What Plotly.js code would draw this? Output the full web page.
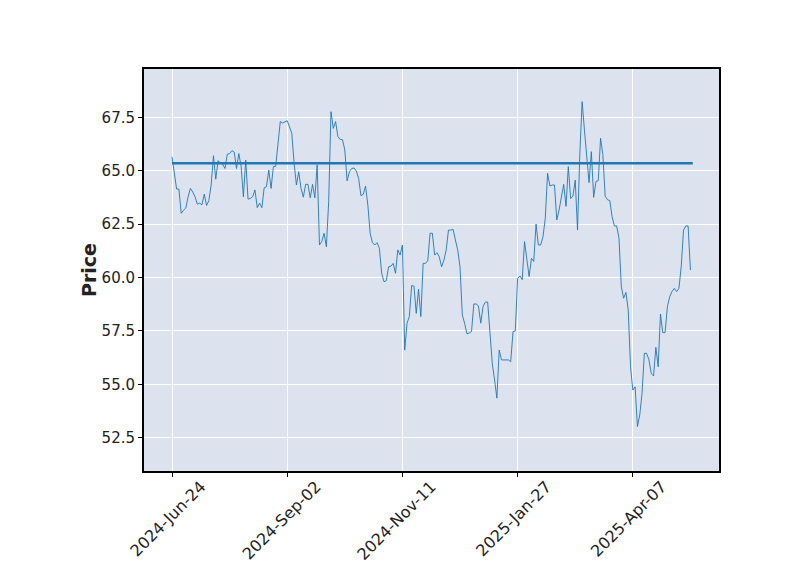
<!DOCTYPE html>
<html>
<head>
<meta charset="utf-8">
<script src="https://cdn.plot.ly/plotly-3.0.1.min.js"></script>
<style>html,body{margin:0;padding:0;background:#fff;}#chart{width:800px;height:575px;}</style>
</head>
<body>
<div id="chart"></div>
<script>
// Closing prices, one per trading day (index 0 = 2024-Jun-24)
const closePrices = [
65.65,64.95,64.14,64.14,63.00,63.15,63.25,63.78,64.17,64.00,
63.78,63.43,63.48,63.40,63.90,63.37,63.60,64.33,65.70,64.60,
65.47,65.35,65.30,65.10,65.77,65.80,65.94,65.87,65.10,65.80,
65.20,63.78,65.50,63.67,63.70,63.78,64.10,63.27,63.48,63.27,
64.20,64.25,65.03,64.17,65.19,65.20,66.36,67.30,67.23,67.27,
67.34,67.05,66.75,65.35,64.33,64.95,64.17,63.76,64.36,64.36,
63.73,64.36,63.73,65.27,61.52,61.68,62.07,61.44,63.55,67.76,
66.98,67.30,66.60,66.46,66.45,65.97,64.52,64.95,65.10,65.13,
64.98,64.64,63.83,63.89,64.28,63.39,62.07,61.63,61.52,61.63,
61.37,60.20,59.80,59.85,60.50,60.53,60.66,60.20,61.29,61.05,
61.52,56.60,57.86,58.17,59.62,59.60,58.32,59.45,58.17,60.66,
60.66,60.78,62.07,62.07,61.05,61.16,60.97,60.50,60.80,61.29,
62.22,62.22,62.25,61.75,61.29,60.50,58.24,57.86,57.36,57.40,
57.47,58.76,58.76,58.67,57.86,58.64,58.85,58.85,57.23,55.98,
55.20,54.35,56.60,56.14,56.14,56.14,56.14,56.06,57.46,57.50,
59.96,60.07,59.90,61.68,60.82,60.04,60.90,60.75,62.50,61.52,
61.52,61.90,62.77,64.88,64.28,64.33,64.33,62.69,63.16,63.78,
64.36,63.33,65.19,63.70,63.80,64.56,62.22,65.81,68.23,66.90,
65.50,64.44,65.89,63.75,64.50,64.53,66.52,65.75,63.80,63.64,
63.60,62.85,62.41,62.41,61.83,59.57,59.03,59.30,58.48,55.82,
54.73,54.88,53.02,53.56,54.58,56.45,56.45,56.14,55.51,55.39,
56.73,55.82,58.29,57.42,57.42,58.63,59.10,59.34,59.49,59.34,
59.49,60.50,62.22,62.41,62.41,60.35
];
// Horizontal reference level
const hlineLevel = [65.35];
// Date tick labels, one every 50 trading days
const tickLabels = ["2024-Jun-24","2024-Sep-02","2024-Nov-11","2025-Jan-27","2025-Apr-07"];
const tickStep = 50;
const yTicks = [52.5,55.0,57.5,60.0,62.5,65.0,67.5];

const idx = closePrices.map((_, i) => i);
const n = closePrices.length;

const traces = [
  {
    x: idx, y: closePrices, type: 'scatter', mode: 'lines',
    line: {color: '#1f77b4', width: 0.9}, hoverinfo: 'skip', showlegend: false
  },
  {
    x: [0, n], y: [hlineLevel[0], hlineLevel[0]], type: 'scatter', mode: 'lines',
    line: {color: '#1f77b4', width: 2.6}, hoverinfo: 'skip', showlegend: false
  }
];

const layout = {
  width: 800, height: 575,
  margin: {l: 144, r: 81, t: 69, b: 104, pad: 0},
  paper_bgcolor: '#ffffff',
  plot_bgcolor: '#dce3ef',
  font: {family: 'DejaVu Sans, sans-serif', size: 15, color: '#222'},
  xaxis: {
    range: [-12.15, 237.4],
    tickmode: 'array',
    tickvals: tickLabels.map((_, k) => k * tickStep),
    ticktext: tickLabels,
    tickangle: -45,
    ticklabelshift: 29,
    ticklabelstandoff: -6,
    ticks: 'outside', ticklen: 4, tickwidth: 1, tickcolor: '#000',
    showgrid: true, gridcolor: '#ffffff', gridwidth: 1,
    zeroline: false,
    showline: true, mirror: true, linecolor: '#000', linewidth: 2,
    tickfont: {size: 16, color: '#222'}
  },
  yaxis: {
    range: [50.94, 69.76],
    tickmode: 'array',
    tickvals: yTicks,
    ticktext: yTicks.map(v => v.toFixed(1)),
    ticks: 'outside', ticklen: 4, tickwidth: 1, tickcolor: '#000',
    showgrid: true, gridcolor: '#ffffff', gridwidth: 1,
    zeroline: false,
    showline: true, mirror: true, linecolor: '#000', linewidth: 2,
    tickfont: {size: 15, color: '#222'},
    title: {text: '<b>Price</b>', font: {size: 19, color: '#222'}, standoff: 0}
  }
};

Plotly.newPlot('chart', traces, layout, {staticPlot: true, displayModeBar: false});
</script>
</body>
</html>
